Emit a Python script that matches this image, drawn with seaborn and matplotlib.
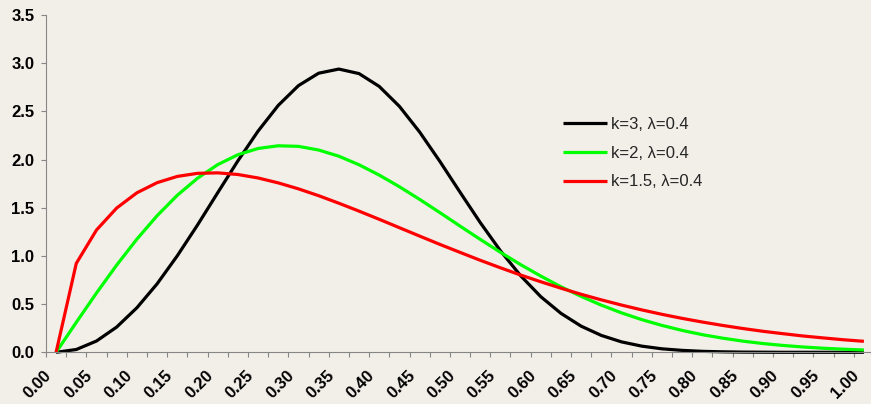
import matplotlib
matplotlib.use("Agg")
import matplotlib.pyplot as plt
import matplotlib.transforms as mtransforms
import pandas as pd
import seaborn as sns

# ---------------- data ----------------
x_values = [0.000, 0.025, 0.050, 0.075, 0.100, 0.125, 0.150, 0.175, 0.200, 0.225,
            0.250, 0.275, 0.300, 0.325, 0.350, 0.375, 0.400, 0.425, 0.450, 0.475,
            0.500, 0.525, 0.550, 0.575, 0.600, 0.625, 0.650, 0.675, 0.700, 0.725,
            0.750, 0.775, 0.800, 0.825, 0.850, 0.875, 0.900, 0.925, 0.950, 0.975,
            1.000]

k3_values = [0.000, 0.029, 0.117, 0.262, 0.462, 0.710, 1.001, 1.320, 1.655, 1.986,
             2.295, 2.562, 2.767, 2.896, 2.939, 2.892, 2.759, 2.552, 2.286, 1.982,
             1.662, 1.347, 1.054, 0.795, 0.577, 0.404, 0.271, 0.175, 0.108, 0.064,
             0.036, 0.020, 0.010, 0.005, 0.002, 0.001, 0.000, 0.000, 0.000, 0.000,
             0.000]

k2_values = [0.000, 0.311, 0.615, 0.905, 1.174, 1.417, 1.629, 1.806, 1.947, 2.050,
             2.115, 2.143, 2.137, 2.099, 2.035, 1.946, 1.839, 1.718, 1.587, 1.450,
             1.310, 1.172, 1.038, 0.910, 0.791, 0.680, 0.580, 0.489, 0.409, 0.339,
             0.279, 0.227, 0.183, 0.147, 0.116, 0.091, 0.071, 0.055, 0.042, 0.032,
             0.024]

k15_values = [0.000, 0.923, 1.269, 1.497, 1.655, 1.760, 1.825, 1.857, 1.862, 1.845,
              1.809, 1.758, 1.696, 1.625, 1.547, 1.465, 1.380, 1.293, 1.206, 1.120,
              1.037, 0.955, 0.877, 0.802, 0.732, 0.665, 0.602, 0.544, 0.490, 0.440,
              0.394, 0.352, 0.314, 0.279, 0.247, 0.218, 0.193, 0.169, 0.149, 0.130,
              0.114]

series_names = ["k=3, λ=0.4", "k=2, λ=0.4", "k=1.5, λ=0.4"]
series_colors = ["#000000", "#00FF00", "#FF0000"]

x_tick_labels = ["0.00", "0.05", "0.10", "0.15", "0.20", "0.25", "0.30", "0.35",
                 "0.40", "0.45", "0.50", "0.55", "0.60", "0.65", "0.70", "0.75",
                 "0.80", "0.85", "0.90", "0.95", "1.00"]
y_ticks = [0.0, 0.5, 1.0, 1.5, 2.0, 2.5, 3.0, 3.5]
y_tick_labels = ["0.0", "0.5", "1.0", "1.5", "2.0", "2.5", "3.0", "3.5"]

# ---------------- table ----------------
frames = []
for name, vals in zip(series_names, [k3_values, k2_values, k15_values]):
    frames.append(pd.DataFrame({
        "pos": list(range(len(x_values))),
        "x": x_values,
        "value": vals,
        "series": name,
    }))
df = pd.concat(frames, ignore_index=True)

# ---------------- style ----------------
sns.set_theme(style="white")
plt.rcParams["font.family"] = ["Liberation Sans", "DejaVu Sans"]
bg = "#F2EFE9"
axis_gray = "#868686"
fs = 12

W, H = 871, 404
fig = plt.figure(figsize=(W / 100, H / 100), dpi=100)
fig.patch.set_facecolor(bg)
x_left, x_right = 46.0, 874.0
y_top, y_bot = 15.0, 352.3
ax = fig.add_axes([x_left / W, (H - y_bot) / H, (x_right - x_left) / W, (y_bot - y_top) / H])
ax.set_facecolor(bg)

sns.lineplot(data=df, x="pos", y="value", hue="series", hue_order=series_names,
             palette=series_colors, linewidth=2.3, sort=False, estimator=None,
             ax=ax)
for ln in ax.lines:
    ln.set_clip_on(False)
    ln.set_solid_joinstyle("round")
    ln.set_solid_capstyle("butt")

n = len(x_values)
ax.set_xlim(-0.5, n - 0.5)
ax.set_ylim(0, 3.5)

# y axis
ax.set_yticks(y_ticks)
ax.set_yticklabels(y_tick_labels, fontweight="bold", fontsize=fs)
ax.tick_params(axis="y", which="major", direction="out", length=3.3, width=0.8,
               color=axis_gray, pad=5.0, labelcolor="black", left=True)

# x axis: tick marks between categories, labels every other category
ax.set_xticks([p - 0.5 for p in range(n + 1)], minor=True)
label_pos = list(range(0, n, 2))
ax.set_xticks(label_pos)
ax.set_xticklabels(x_tick_labels, fontweight="bold", fontsize=fs, rotation=45,
                   ha="right", va="center", rotation_mode="anchor")
ax.tick_params(axis="x", which="major", length=0, pad=15, labelcolor="black")
ax.tick_params(axis="x", which="minor", direction="out", length=3.5, width=0.8,
               color=axis_gray, bottom=True)
offset = mtransforms.ScaledTranslation(-7 / 100, 0, fig.dpi_scale_trans)
for lab in ax.get_xticklabels():
    lab.set_transform(lab.get_transform() + offset)

ax.set_xlabel("")
ax.set_ylabel("")
for side in ["top", "right"]:
    ax.spines[side].set_visible(False)
for side in ["left", "bottom"]:
    ax.spines[side].set_color(axis_gray)
    ax.spines[side].set_linewidth(0.8)
ax.grid(False)

# legend
handles, labels = ax.get_legend_handles_labels()
leg = ax.legend(handles, labels, loc="upper left",
                bbox_to_anchor=(563 / W, (H - 116.8) / H), bbox_transform=fig.transFigure,
                frameon=False, fontsize=fs, handlelength=2.64, handletextpad=0.24,
                labelspacing=0.83, borderpad=0, borderaxespad=0)
for h in leg.get_lines():
    h.set_linewidth(2.3)

fig.savefig("out.png", dpi=100, facecolor=bg)
